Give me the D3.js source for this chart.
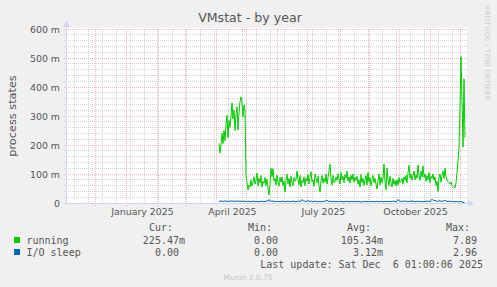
<!DOCTYPE html>
<html><head><meta charset="utf-8">
<script src="https://cdn.jsdelivr.net/npm/d3@7"></script>
<style>
html,body{margin:0;padding:0;background:#f0f0f0;}
svg{display:block;}
text{font-family:"DejaVu Sans",sans-serif;}
.mono{font-family:"DejaVu Sans Mono",monospace;font-size:10px;fill:#555;}
</style></head>
<body><svg id="c" width="497" height="287"></svg>
<script>
// ---- data ----
const title = "VMstat - by year";
const yLabel = "process states";
const yTicks = [0, 100, 200, 300, 400, 500, 600];          // milli units
const yTickLabels = ["0", "100 m", "200 m", "300 m", "400 m", "500 m", "600 m"];
const xLabelMonths = ["2025-01-16", "2025-04-16", "2025-07-16", "2025-10-16"];
const xLabelTexts = ["January 2025", "April 2025", "July 2025", "October 2025"];
const rangeStart = "2024-11-01T01:00:00Z";
const rangeEnd = "2025-12-06T01:00:00Z";
const seriesStart = "2025-04-03T01:00:00Z";   // first daily sample
const seriesNames = ["running", "I/O sleep"];
const seriesColors = ["#00cc00", "#0066b3"];
// daily averages, in milli (m)
const running = [
 205,172,200,240,205,250,215,270,303,225,285,260,300,345,290,320,250,305,332,252,310,350,366,345,297,338,320,97,
 70,45,62,55,80,58,72,90,65,78,
 103,60,85,70,95,55,75,68,88,60,
 82,50,28,65,120,90,118,75,85,62,
 95,70,58,88,72,90,60,75,38,80,
 100,65,85,55,92,70,60,88,75,82,
 110,80,62,95,55,78,70,90,60,85,
 75,98,65,88,108,72,80,58,100,85,
 70,92,60,38,78,95,68,85,72,100,
 65,88,110,134,80,62,95,70,73,90,
 78,100,85,65,105,80,92,70,98,85,
 110,75,90,68,95,80,100,72,88,78,
 92,65,80,55,98,70,85,60,78,95,
 62,105,72,88,60,80,95,70,85,65,
 48,78,100,62,90,70,85,134,75,45,
 120,80,60,92,70,55,85,65,78,58,
 80,62,88,70,75,85,65,90,78,95,
 70,105,130,85,100,78,92,110,80,98,
 85,132,95,78,110,90,128,88,100,75,
 95,80,105,70,92,85,100,78,90,60,
 75,40,88,100,72,95,110,85,120,90,
 80,75,70,65,72,60,58,55,
 52,70,103,145,193,330,505,350,193,428,225
];
const ioSleep = [
 3,8,6,7,5,6,8,5,7,6, 5,7,6,8,5,6,7,5,6,8, 6,5,7,6,5,8,6,4,5,7, 6,5,4,6,5,7,5,4,6,5,
 4,6,5,7,5,4,6,5,8,6, 12,7,5,8,6,5,7,4,6,5, 6,4,5,7,5,6,4,5,6,7, 5,4,6,5,7,6,5,4,6,5,
 7,5,6,12,8,6,7,5,6,9, 6,5,7,5,4,6,5,7,5,4, 5,6,4,5,6,5,7,8,10,6, 5,7,6,4,5,6,5,4,5,6,
 4,5,6,5,4,3,5,6,5,4, 5,4,6,5,4,5,6,4,5,6, 5,4,3,5,6,5,4,6,5,4, 5,6,4,5,6,5,4,5,6,5,
 4,5,6,5,4,5,6,4,5,6, 5,4,6,5,7,6,5,4,6,12, 8,6,5,7,6,5,8,6,5,4, 6,5,7,8,5,6,4,5,6,5,
 7,5,4,6,5,4,6,5,7,6, 5,6,8,13,9,10,7,8,6,5, 9,6,7,5,8,6,10,7,5,6, 5,7,6,4,6,5,4,5,6,3,
 5,4,6,3,2,1,0
];
const legendHeaders = ["Cur:", "Min:", "Avg:", "Max:"];
const legendValues = [
  ["225.47m", "0.00", "105.34m", "7.89"],
  ["0.00", "0.00", "3.12m", "2.96"]
];
const lastUpdate = "Last update: Sat Dec  6 01:00:06 2025";
const footer = "Munin 2.0.75";
const sideText = "RRDTOOL / TOBI OETIKER";

// ---- drawing ----
const svg = d3.select("#c");
const L = 66, R = 466, T = 29, B = 203;
const x = d3.scaleUtc().domain([new Date(rangeStart), new Date(rangeEnd)]).range([L, R]);
const y = d3.scaleLinear().domain([0, 600]).range([B, T]);
const px = v => Math.floor(v) + 0.5;

svg.append("rect").attr("width", 497).attr("height", 287).attr("fill", "#f0f0f0");
svg.append("rect").attr("x", L).attr("y", T - 1).attr("width", R - L + 1).attr("height", B - T + 1).attr("fill", "#fff");

const minorC = "rgba(165,165,165,0.5)";
const majorC = "rgba(225,130,130,0.55)";
const grid = svg.append("g").attr("fill", "none").attr("stroke-width", 1).attr("stroke-dasharray", "1,1");
// minor horizontal
d3.range(0, 601, 20).filter(v => v % 100 !== 0).forEach(v => {
  grid.append("line").attr("x1", L - 2).attr("x2", R + 1).attr("y1", px(y(v))).attr("y2", px(y(v)))
    .attr("stroke", minorC);
});
// minor vertical: every two weeks
const minorStart = new Date("2024-11-10T00:00:00Z");
const minorDates = d3.utcDay.range(minorStart, new Date(rangeEnd), 14);
minorDates.forEach(d => {
  grid.append("line").attr("x1", px(x(d))).attr("x2", px(x(d))).attr("y1", T).attr("y2", B + 2)
    .attr("stroke", minorC);
});
// major vertical: month starts
const months = d3.utcMonth.range(new Date(rangeStart), new Date(rangeEnd));
months.forEach(d => {
  grid.append("line").attr("x1", px(x(d))).attr("x2", px(x(d))).attr("y1", T).attr("y2", B + 3)
    .attr("stroke", majorC);
});
// major horizontal
yTicks.forEach(v => {
  if (v === 0) return;
  grid.append("line").attr("x1", L - 2).attr("x2", R + 1).attr("y1", px(y(v))).attr("y2", px(y(v)))
    .attr("stroke", majorC);
});

// series
const t0 = new Date(seriesStart);
const dayDate = i => d3.utcDay.offset(t0, i);
const line = d3.line().x((d, i) => x(dayDate(i))).y(d => y(d));
svg.append("path").datum(running).attr("d", line).attr("fill", "none")
  .attr("stroke", seriesColors[0]).attr("stroke-width", 1);
svg.append("path").datum(ioSleep).attr("d", line).attr("fill", "none")
  .attr("stroke", seriesColors[1]).attr("stroke-width", 1);

// axes lines + arrows
const axc = "#cfd6f8";
svg.append("line").attr("x1", L - 2).attr("x2", R + 2).attr("y1", B + 0.5).attr("y2", B + 0.5).attr("stroke", axc);
svg.append("line").attr("x1", L + 0.5).attr("x2", L + 0.5).attr("y1", B + 2).attr("y2", T - 2).attr("stroke", axc);
svg.append("path").attr("d", `M${R + 2},${B - 3} L${R + 8},${B + 0.5} L${R + 2},${B + 4} Z`).attr("fill", axc);
svg.append("path").attr("d", `M${L - 3},${T - 2} L${L + 0.5},${T - 8} L${L + 4},${T - 2} Z`).attr("fill", axc);

// y axis labels
const yAxis = d3.axisLeft(y).tickValues(yTicks).tickSize(0).tickPadding(0)
  .tickFormat((d, i) => yTickLabels[i]);
const gy = svg.append("g").attr("transform", `translate(${L - 6},0.5)`).call(yAxis);
gy.select(".domain").remove();
gy.selectAll("text").attr("font-family", "DejaVu Sans").attr("font-size", "9.4px").attr("fill", "#555");

// x axis labels
const xAxis = d3.axisBottom(x).tickValues(xLabelMonths.map(s => new Date(s + "T00:00:00Z")))
  .tickSize(0).tickPadding(0).tickFormat((d, i) => xLabelTexts[i]);
const gx = svg.append("g").attr("transform", `translate(0,${B + 5})`).call(xAxis);
gx.select(".domain").remove();
gx.selectAll("text").attr("font-family", "DejaVu Sans").attr("font-size", "9.4px").attr("fill", "#555");

// title, y label, side text
svg.append("text").attr("x", 250).attr("y", 22).attr("text-anchor", "middle")
  .attr("font-size", "12.6px").attr("fill", "#555").text(title);
svg.append("text").attr("transform", `translate(15.5,116) rotate(-90)`).attr("text-anchor", "middle")
  .attr("font-size", "11.3px").attr("fill", "#555").text(yLabel);
svg.append("text").attr("transform", `translate(485,5) rotate(90)`).attr("font-size", "7px")
  .attr("fill", "#cccccc").attr("textLength", 96).attr("lengthAdjust", "spacingAndGlyphs").text(sideText);

// legend
const hdrX = [173, 272, 371, 470];
legendHeaders.forEach((h, i) => {
  svg.append("text").attr("class", "mono").attr("x", hdrX[i]).attr("y", 231).attr("text-anchor", "end").text(h);
});
const colEnd = [179, 278, 377, 477];
const rowY = [243.5, 255.5];
seriesNames.forEach((n, r) => {
  svg.append("rect").attr("x", 14).attr("y", rowY[r] - 6.5).attr("width", 6).attr("height", 6).attr("fill", seriesColors[r]);
  svg.append("text").attr("class", "mono").attr("x", 26.5).attr("y", rowY[r]).text(n);
  legendValues[r].forEach((v, c) => {
    const hasUnit = /m$/.test(v);
    svg.append("text").attr("class", "mono").attr("x", colEnd[c] + (hasUnit ? 6 : 0)).attr("y", rowY[r])
      .attr("text-anchor", "end").text(v);
  });
});
svg.append("text").attr("class", "mono").attr("x", 483).attr("y", 267.5).attr("text-anchor", "end")
  .attr("xml:space", "preserve").style("white-space", "pre").text(lastUpdate);
svg.append("text").attr("x", 248).attr("y", 280).attr("text-anchor", "middle").attr("font-size", "7.5px")
  .attr("fill", "#c4c4c4").text(footer);
</script></body></html>
